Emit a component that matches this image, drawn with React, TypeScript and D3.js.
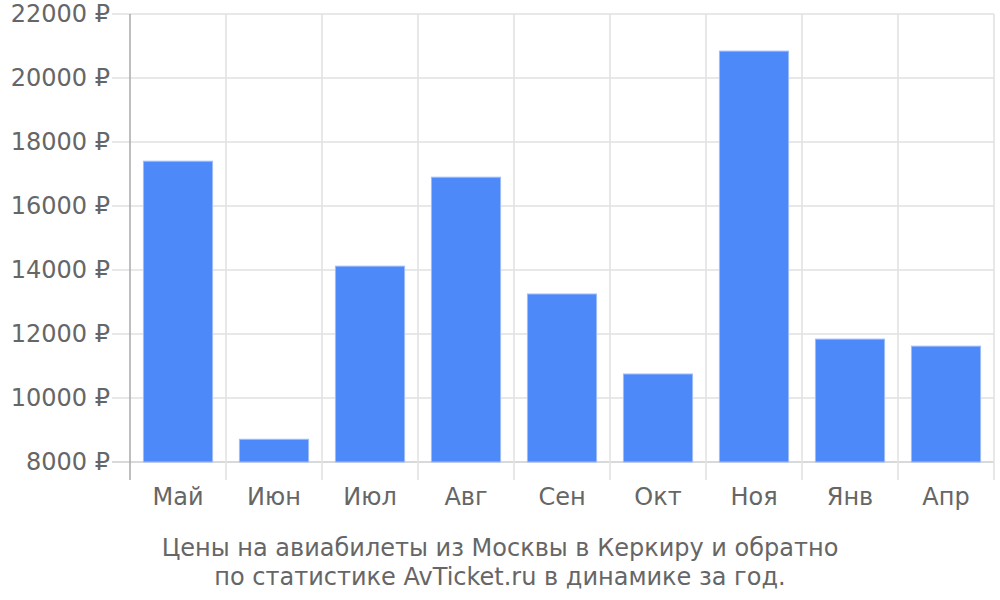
import React from "react";
import * as d3 from "d3";

const categories = ["Май", "Июн", "Июл", "Авг", "Сен", "Окт", "Ноя", "Янв", "Апр"];
const prices = [17400, 8710, 14120, 16900, 13250, 10750, 20840, 11840, 11620];
const yTicks = [8000, 10000, 12000, 14000, 16000, 18000, 20000, 22000];
const captionLines = [
  "Цены на авиабилеты из Москвы в Керкиру и обратно",
  "по статистике AvTicket.ru в динамике за год.",
];

const W = 1000;
const H = 600;
const left = 130;
const right = 994;
const top = 14;
const bottom = 462;
const tickBottom = 480;
const font = "DejaVu Sans, sans-serif";
const textColor = "#666666";

export default function App() {
  const x = d3.scaleBand<string>().domain(categories).range([left, right]).paddingInner(0.28).paddingOuter(0.14);
  const band = d3.scaleBand<string>().domain(categories).range([left, right]).padding(0);
  const y = d3.scaleLinear().domain([8000, 22000]).range([bottom, top]);
  const boundaries = [...categories.map((c) => band(c) as number), right];

  return (
    <div style={{ position: "absolute", left: 0, top: 0 }}>
      <svg width={W} height={H} style={{ display: "block", background: "#fff" }}>
        {yTicks.map((t) => (
          <line key={"h" + t} x1={left - 18} x2={right} y1={y(t)} y2={y(t)} stroke={t === 8000 ? "#cccccc" : "#e0e0e0"} strokeWidth={1.5} />
        ))}
        {boundaries.map((b, i) => (
          <line key={"v" + i} x1={b} x2={b} y1={top} y2={tickBottom} stroke={i === 0 ? "#aaaaaa" : "#e0e0e0"} strokeWidth={1.5} />
        ))}
        {categories.map((c, i) => (
          <rect
            key={c}
            x={x(c)}
            y={y(prices[i])}
            width={x.bandwidth()}
            height={bottom - y(prices[i])}
            fill="#4e89f9"
            stroke="#9dbcfb"
            strokeWidth={1}
          />
        ))}
        {yTicks.map((t) => (
          <text key={"yl" + t} x={110} y={y(t)} dy="0.35em" textAnchor="end" fontFamily={font} fontSize={24} fill={textColor}>
            {t} ₽
          </text>
        ))}
        {categories.map((c) => (
          <text key={"xl" + c} x={(band(c) as number) + band.bandwidth() / 2} y={505} textAnchor="middle" fontFamily={font} fontSize={24} fill={textColor}>
            {c}
          </text>
        ))}
        {captionLines.map((l, i) => (
          <text key={"c" + i} x={500} y={556 + i * 29} textAnchor="middle" fontFamily={font} fontSize={24} fill={textColor}>
            {l}
          </text>
        ))}
      </svg>
    </div>
  );
}
